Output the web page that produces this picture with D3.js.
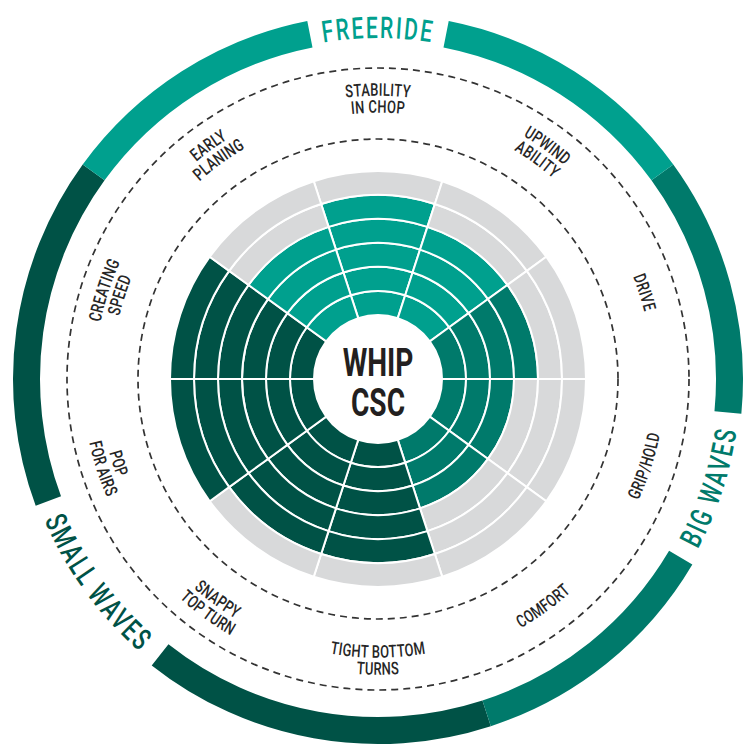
<!DOCTYPE html>
<html><head><meta charset="utf-8">
<script src="https://cdn.jsdelivr.net/npm/d3@7"></script>
<style>html,body{margin:0;padding:0;background:#fff;} svg{display:block}</style>
</head><body>
<svg id="chart" width="756" height="756"></svg>
<script>
// ---- data ----
const categories = [
  ["STABILITY","IN CHOP"], ["UPWIND","ABILITY"], ["DRIVE"], ["GRIP/HOLD"], ["COMFORT"],
  ["TIGHT BOTTOM","TURNS"], ["SNAPPY","TOP TURN"], ["POP","FOR AIRS"], ["CREATING","SPEED"], ["EARLY","PLANING"]
];
const values = [5, 4, 4, 3, 3, 5, 5, 6, 6, 4];
const categoryGroup = [0, 0, 1, 1, 1, 2, 2, 2, 2, 0];
const groups = ["FREERIDE", "BIG WAVES", "SMALL WAVES"];
const groupColors = ["#00a08e", "#007a6b", "#005246"];
const levels = [1, 2, 3, 4, 5, 6];
const title = ["WHIP", "CSC"];

// ---- layout ----
const cx = 378, cy = 379;
const FONT = "Roboto, 'DejaVu Sans', sans-serif";
const svg = d3.select("#chart");
const defs = svg.append("defs");
const root = svg.append("g").attr("transform", `translate(${cx},${cy})`);
const n = categories.length;
const angle = d3.scaleLinear().domain([0, n]).range([0, 2 * Math.PI]);
const radius = d3.scaleLinear().domain([0, levels.length]).range([64, 208]);
const arc = d3.arc();

// cells
const cells = [];
categories.forEach((c, i) => levels.forEach(l => cells.push({ i, l })));
root.append("g").selectAll("path").data(cells).join("path")
  .attr("d", d => arc({ innerRadius: radius(d.l - 1), outerRadius: radius(d.l),
                        startAngle: angle(d.i - 0.5), endAngle: angle(d.i + 0.5) }))
  .attr("fill", d => d.l <= values[d.i] ? groupColors[categoryGroup[d.i]] : "#d8d9da")
  .attr("stroke", "#fff").attr("stroke-width", 2);

// dashed circles
[240, 311].forEach(r => root.append("circle").attr("r", r).attr("fill", "none")
  .attr("stroke", "#333").attr("stroke-width", 1.7).attr("stroke-dasharray", "7 5"));

// helper: arc path for textPath
let pid = 0;
function arcPath(r, a0, cw) {
  const span = 80 * Math.PI / 180;
  const a1 = cw ? a0 - span : a0 + span, a2 = cw ? a0 + span : a0 - span;
  const p = a => [r * Math.sin(a), -r * Math.cos(a)];
  const [x1, y1] = p(a1), [x2, y2] = p(a2);
  const id = "tp" + (pid++);
  defs.append("path").attr("id", id)
    .attr("d", `M${x1},${y1} A${r},${r} 0 0 ${cw ? 1 : 0} ${x2},${y2}`);
  return id;
}
// one <text> holding one textPath per line; lines = [{str, rc}]
function curvedText(g, lines, a0, cw, o) {
  const cap = 0.711 * o.size;
  const t = g.append("text").attr("font-family", FONT).attr("font-size", o.size)
    .attr("font-weight", o.weight).attr("letter-spacing", o.spacing).attr("fill", o.fill);
  let maxLen = 0;
  lines.forEach(({ str, rc }) => {
    const rb = cw ? rc - cap / 2 : rc + cap / 2;
    const id = arcPath(rb, a0, cw);
    const tp = t.append("textPath").attr("href", "#" + id).attr("startOffset", "50%")
      .attr("text-anchor", "middle").text(str);
    const L = tp.node().getComputedTextLength();
    const target = L * o.sx;
    tp.attr("textLength", target).attr("lengthAdjust", "spacingAndGlyphs");
    maxLen = Math.max(maxLen, target);
  });
  return maxLen;
}

// category labels
const labG = root.append("g");
const labOpt = { size: 17.5, weight: 500, spacing: 0.4, sx: 0.74, fill: "#262626" };
const R = 281, LH = 17;
categories.forEach((lines, i) => {
  const a = angle(i);
  const cw = Math.cos(a) >= 0;
  const spec = lines.map((line, k) => {
    const up = ((lines.length - 1) / 2 - k) * LH;
    return { str: line, rc: cw ? R + up : R - up };
  });
  curvedText(labG, spec, a, cw, labOpt);
});

// group rings with titles
const ringIn = 338, ringOut = 365, ringMid = (ringIn + ringOut) / 2;
const ringG = root.append("g");
groups.forEach((gname, gi) => {
  let idx = categoryGroup.map((v, i) => v === gi ? i : null).filter(v => v !== null);
  if (idx.includes(0) && idx.includes(n - 1)) idx = idx.map(i => i > n / 2 ? i - n : i);
  const start = angle(d3.min(idx) - 0.5), end = angle(d3.max(idx) + 0.5);
  const mid = (start + end) / 2;
  let m = mid % (2 * Math.PI); if (m < 0) m += 2 * Math.PI;
  const cw = Math.cos(m) >= 0;
  const len = curvedText(ringG, [{ str: gname, rc: ringMid }], mid, cw,
    { size: 30, weight: 500, spacing: 3, sx: 0.7, fill: groupColors[gi] });
  const half = (len / 2) / ringMid + 2.2 * Math.PI / 180;
  [[start, mid - half], [mid + half, end]].forEach(([s, e]) =>
    ringG.insert("path", ":first-child").attr("d", arc({ innerRadius: ringIn, outerRadius: ringOut, startAngle: s, endAngle: e }))
      .attr("fill", groupColors[gi]));
});

// center title
const tG = root.append("g");
[[title[0], -3], [title[1], 37]].forEach(([s, y]) => {
  const t = tG.append("text").attr("y", y).attr("text-anchor", "middle")
    .attr("font-family", FONT).attr("font-weight", 700).attr("font-size", 39)
    .attr("fill", "#231f20").text(s);
  const L = t.node().getComputedTextLength();
  t.attr("textLength", L * 0.72).attr("lengthAdjust", "spacingAndGlyphs");
});
</script>
</body></html>
